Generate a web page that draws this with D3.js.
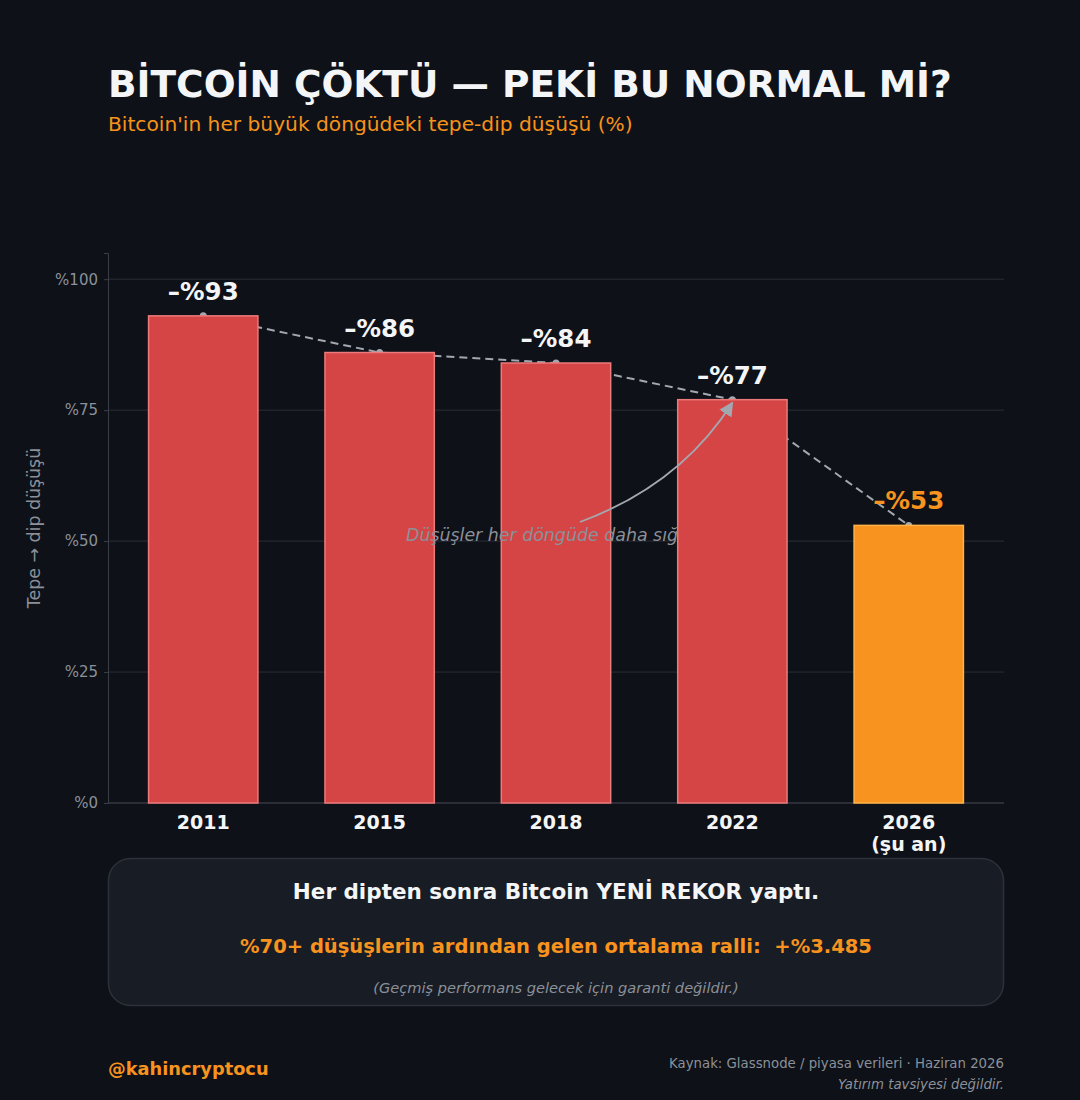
<!DOCTYPE html>
<html>
<head>
  <meta charset="utf-8">
  <style>
    body { margin: 0; background-color: #0e1118; }
    svg { display: block; font-family: "DejaVu Sans", sans-serif; }
  </style>
</head>
<body>
  <div id="chart"></div>
  <script src="https://d3js.org/d3.v7.min.js"></script>
  <script>
    // data
    var years = ['2011', '2015', '2018', '2022', '2026'];
    var subLabels = ['', '', '', '', '(şu an)'];
    var drops = [93, 86, 84, 77, 53];
    var yTicks = [0, 25, 50, 75, 100];

    var width = 1080, height = 1100;
    var plot = {left: 108, right: 1004, top: 253, bottom: 803};

    var svg = d3.select('#chart')
        .append('svg')
        .attr('width', width)
        .attr('height', height);

    svg.append('rect').attr('width', width).attr('height', height).attr('fill', '#0e1118');

    // title
    svg.append('text')
        .attr('x', 108).attr('y', 97)
        .attr('fill', '#f4f5f7')
        .attr('font-size', 37.5).attr('font-weight', 'bold')
        .text('BİTCOİN ÇÖKTÜ — PEKİ BU NORMAL Mİ?');
    svg.append('text')
        .attr('x', 108).attr('y', 131)
        .attr('fill', '#f7931a')
        .attr('font-size', 20.2)
        .text("Bitcoin'in her büyük döngüdeki tepe-dip düşüşü (%)");

    var x = d3.scaleLinear().domain([-0.54, 4.54]).range([plot.left, plot.right]);
    var y = d3.scaleLinear().domain([0, 105]).range([plot.bottom, plot.top]);
    var barW = x(0.62) - x(0);

    // grid
    svg.append('g')
        .selectAll('line')
        .data(yTicks)
        .enter().append('line')
        .attr('x1', plot.left).attr('x2', plot.right)
        .attr('y1', d => y(d)).attr('y2', d => y(d))
        .attr('stroke', '#2a2e36').attr('stroke-width', 1);

    // y axis
    var yAxis = svg.append('g')
        .attr('transform', 'translate(' + plot.left + ',0)')
        .call(d3.axisLeft(y).tickValues(yTicks).tickFormat(d => '%' + d).tickSize(4).tickPadding(6));
    yAxis.select('.domain').attr('stroke', '#3a3e46');
    yAxis.selectAll('.tick line').attr('stroke', '#3a3e46');
    yAxis.selectAll('.tick text').attr('fill', '#8b9099').attr('font-size', 15).attr('font-family', 'DejaVu Sans');

    svg.append('text')
        .attr('transform', 'translate(40,528) rotate(-90)')
        .attr('text-anchor', 'middle')
        .attr('fill', '#8b9099')
        .attr('font-size', 17.4)
        .text('Tepe → dip düşüşü');

    // bottom axis line
    svg.append('line')
        .attr('x1', plot.left).attr('x2', plot.right)
        .attr('y1', plot.bottom).attr('y2', plot.bottom)
        .attr('stroke', '#3a3e46');

    // dashed trend line (behind bars)
    var line = d3.line().x((d, i) => x(i)).y(d => y(d));
    svg.append('path')
        .datum(drops)
        .attr('d', line)
        .attr('fill', 'none')
        .attr('stroke', '#a3a8b0')
        .attr('stroke-width', 2)
        .attr('stroke-dasharray', '8,5');
    svg.append('g')
        .selectAll('circle')
        .data(drops)
        .enter().append('circle')
        .attr('cx', (d, i) => x(i)).attr('cy', d => y(d))
        .attr('r', 3.5).attr('fill', '#a3a8b0');

    // bars
    svg.append('g')
        .selectAll('rect')
        .data(drops)
        .enter().append('rect')
        .attr('x', (d, i) => x(i) - barW / 2)
        .attr('y', d => y(d))
        .attr('width', barW)
        .attr('height', d => y(0) - y(d))
        .attr('fill', (d, i) => i === 4 ? '#f7931e' : '#d64545')
        .attr('stroke', (d, i) => i === 4 ? '#ffb347' : '#ec7a7a')
        .attr('stroke-width', 1.5);

    // x tick labels
    var xl = svg.append('g');
    xl.selectAll('text.year')
        .data(years)
        .enter().append('text')
        .attr('x', (d, i) => x(i)).attr('y', 829)
        .attr('text-anchor', 'middle')
        .attr('fill', '#f4f5f7').attr('font-size', 19).attr('font-weight', 'bold')
        .text(d => d);
    xl.selectAll('text.sub')
        .data(subLabels)
        .enter().append('text')
        .attr('x', (d, i) => x(i)).attr('y', 851)
        .attr('text-anchor', 'middle')
        .attr('fill', '#f4f5f7').attr('font-size', 19).attr('font-weight', 'bold')
        .text(d => d);

    // value labels
    svg.append('g')
        .selectAll('text')
        .data(drops)
        .enter().append('text')
        .attr('x', (d, i) => x(i)).attr('y', d => y(d) - 16)
        .attr('text-anchor', 'middle')
        .attr('fill', (d, i) => i === 4 ? '#f7931e' : '#f4f5f7')
        .attr('font-size', 24.5).attr('font-weight', 'bold')
        .text(d => '–%' + d);

    // annotation
    svg.append('defs').append('marker')
        .attr('id', 'arrow')
        .attr('viewBox', '0 0 10 10')
        .attr('refX', 9).attr('refY', 5)
        .attr('markerWidth', 8).attr('markerHeight', 8)
        .attr('orient', 'auto')
        .append('path')
        .attr('d', 'M0,0 L10,5 L0,10 Z')
        .attr('fill', '#a3a8b0');
    var ax = x(3), ay = y(drops[3]) + 3;
    svg.append('path')
        .attr('d', 'M580,522 Q680,485 ' + ax + ',' + ay)
        .attr('fill', 'none')
        .attr('stroke', '#a3a8b0')
        .attr('stroke-width', 1.8)
        .attr('marker-end', 'url(#arrow)');
    svg.append('text')
        .attr('x', 406).attr('y', 541)
        .attr('fill', '#8b9099')
        .attr('font-size', 17.4).attr('font-style', 'italic')
        .text('Düşüşler her döngüde daha sığ');

    // info box
    svg.append('rect')
        .attr('x', 108.5).attr('y', 858.5)
        .attr('width', 895).attr('height', 147)
        .attr('rx', 22)
        .attr('fill', '#181c24')
        .attr('stroke', '#2c313a').attr('stroke-width', 1.5);
    svg.append('text')
        .attr('x', 556).attr('y', 899)
        .attr('text-anchor', 'middle')
        .attr('fill', '#f4f5f7').attr('font-size', 21.5).attr('font-weight', 'bold')
        .text('Her dipten sonra Bitcoin YENİ REKOR yaptı.');
    svg.append('text')
        .attr('x', 556).attr('y', 953)
        .attr('text-anchor', 'middle')
        .attr('fill', '#f7931e').attr('font-size', 19.5).attr('font-weight', 'bold')
        .attr('xml:space', 'preserve')
        .style('white-space', 'pre')
        .text('%70+ düşüşlerin ardından gelen ortalama ralli:  +%3.485');
    svg.append('text')
        .attr('x', 556).attr('y', 993)
        .attr('text-anchor', 'middle')
        .attr('fill', '#8b9099').attr('font-size', 14.6).attr('font-style', 'italic')
        .text('(Geçmiş performans gelecek için garanti değildir.)');

    // footer
    svg.append('text')
        .attr('x', 108).attr('y', 1075)
        .attr('fill', '#f7931e').attr('font-size', 17.8).attr('font-weight', 'bold')
        .text('@kahincryptocu');
    svg.append('text')
        .attr('x', 1004).attr('y', 1068)
        .attr('text-anchor', 'end')
        .attr('fill', '#8b9099').attr('font-size', 13.3)
        .text('Kaynak: Glassnode / piyasa verileri · Haziran 2026');
    svg.append('text')
        .attr('x', 1004).attr('y', 1089)
        .attr('text-anchor', 'end')
        .attr('fill', '#8b9099').attr('font-size', 13.3).attr('font-style', 'italic')
        .text('Yatırım tavsiyesi değildir.');
  </script>
</body>
</html>
